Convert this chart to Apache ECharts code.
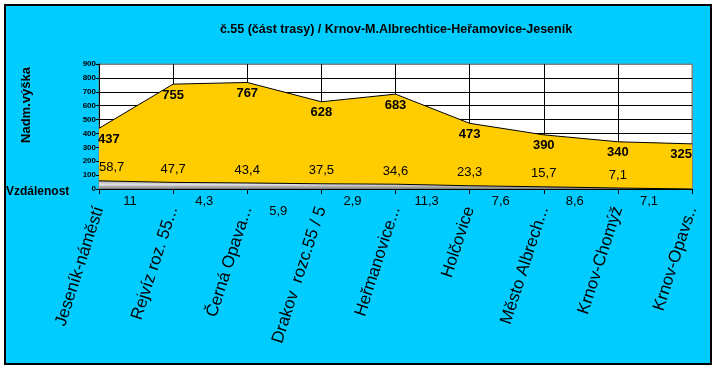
<!DOCTYPE html>
<html><head><meta charset="utf-8">
<script src="https://cdn.jsdelivr.net/npm/echarts@6/dist/echarts.min.js"></script>
<style>
html,body{margin:0;padding:0;background:#fff;}
#wrap{position:relative;width:718px;height:371px;background:#fff;}
#frame{position:absolute;left:4px;top:4px;width:708px;height:361px;box-sizing:border-box;border:2px solid #000;background:#00CCFF;}
#chart{position:absolute;left:0;top:0;width:718px;height:371px;}
</style></head>
<body>
<div id="wrap"><div id="frame"></div><div id="chart"></div></div>
<script>
const title = 'č.55 (část trasy) / Krnov-M.Albrechtice-Heřamovice-Jeseník';
const categories = ['Jeseník-náměstí', 'Rejvíz roz. 55...', 'Černá Opava...', 'Drakov  rozc.55 / 5', 'Heřmanovice...', 'Holčovice', 'Město Albrech...', 'Krnov-Chomýž', 'Krnov-Opavs..'];
const elevation = [437, 755, 767, 628, 683, 473, 390, 340, 325];
const distance = [58.7, 47.7, 43.4, 37.5, 34.6, 23.3, 15.7, 7.1, 0];
const segments = ['11', '4,3', '5,9', '2,9', '11,3', '7,6', '8,6', '7,1'];
const yTicks = {min: 0, max: 900, interval: 100};

const FONT = '"Liberation Sans", Arial, sans-serif';
const chart = echarts.init(document.getElementById('chart'), null, {renderer: 'canvas'});

const elevData = elevation.map((v, i) => {
  const item = {value: v};
  if (i === 0) item.label = {align: 'left', offset: [-1, 0]};
  if (i === elevation.length - 1) item.label = {align: 'right'};
  return item;
});
const distData = distance.map((v, i) => {
  const item = {value: v};
  if (i === 0) item.label = {align: 'left'};
  if (v === 0) item.label = {show: false};
  return item;
});

const yColors = [];
for (let i = 0; i < 9; i++) yColors.push('#000');
yColors.push('#808080');
const xColors = [];
for (let i = 0; i < categories.length - 1; i++) xColors.push('#000');
xColors.push('#808080');

chart.setOption({
  backgroundColor: 'transparent',
  animation: false,
  title: {
    text: title, left: 391, top: 18, textAlign: 'center',
    textStyle: {fontFamily: FONT, fontSize: 12.5, fontWeight: 'bold', color: '#000'}
  },
  grid: {left: 99, right: 26, top: 64, bottom: 182, show: true, backgroundColor: '#fff', borderColor: '#808080', borderWidth: 1},
  xAxis: [{
    type: 'category', data: categories, boundaryGap: false, position: 'bottom',
    axisLine: {show: true, lineStyle: {color: '#000', width: 1}},
    axisTick: {show: true, length: 5, lineStyle: {color: '#000'}},
    axisLabel: {interval: 0, rotate: 72, margin: 18, fontFamily: FONT, fontSize: 17, color: '#000'},
    splitLine: {show: true, lineStyle: {color: xColors, width: 1}}
  }, {
    type: 'category', data: segments, boundaryGap: true, position: 'bottom', offset: 0,
    axisLine: {show: false}, axisTick: {show: false}, splitLine: {show: false},
    axisLabel: {
      interval: 0, margin: 6, fontFamily: FONT, fontSize: 13, color: '#000', padding: [0, 12, 0, 0],
      formatter: (v, i) => i === 2 ? '{low|' + v + '}' : v,
      rich: {low: {fontFamily: FONT, fontSize: 13, color: '#000', padding: [10, 0, 0, 0]}}
    }
  }],
  yAxis: {
    type: 'value', min: yTicks.min, max: yTicks.max, interval: yTicks.interval,
    axisLine: {show: true, lineStyle: {color: '#000'}},
    axisTick: {show: true, length: 3, lineStyle: {color: '#000'}},
    axisLabel: {margin: 3, fontFamily: FONT, fontSize: 8, fontWeight: 'bold', color: '#000'},
    splitLine: {show: true, lineStyle: {color: yColors, width: 1}}
  },
  graphic: [{
    type: 'text', x: 26, y: 105, rotation: Math.PI / 2,
    style: {text: 'Nadm.výška', font: 'bold 13px ' + FONT, fill: '#000', align: 'center', verticalAlign: 'middle'}
  }, {
    type: 'text', x: 6, y: 192,
    style: {text: 'Vzdálenost', font: 'bold 12px ' + FONT, fill: '#000', align: 'left', verticalAlign: 'middle'}
  }],
  series: [{
    type: 'line', name: 'Nadm.výška', xAxisIndex: 0, data: elevData,
    symbol: 'circle', symbolSize: 1, showSymbol: true,
    itemStyle: {color: 'rgba(0,0,0,0)'},
    lineStyle: {color: '#000', width: 1},
    areaStyle: {color: '#FFCC00', opacity: 1},
    label: {show: true, position: 'bottom', distance: 4, fontFamily: FONT, fontSize: 13, fontWeight: 'bold', color: '#000'},
    z: 2
  }, {
    type: 'line', name: 'Vzdálenost', xAxisIndex: 0, data: distData,
    symbol: 'circle', symbolSize: 1, showSymbol: true,
    itemStyle: {color: 'rgba(0,0,0,0)'},
    lineStyle: {color: '#000', width: 1},
    areaStyle: {opacity: 1, color: new echarts.graphic.LinearGradient(0, 0, 0, 1, [
      {offset: 0, color: '#a8a8a8'}, {offset: 0.45, color: '#e0e0e0'}, {offset: 1, color: '#7a7a7a'}
    ])},
    label: {show: true, position: 'top', distance: 6, fontFamily: FONT, fontSize: 13, color: '#000',
      formatter: p => String(p.value).replace('.', ',')},
    z: 3
  }]
});
</script>
</body></html>
